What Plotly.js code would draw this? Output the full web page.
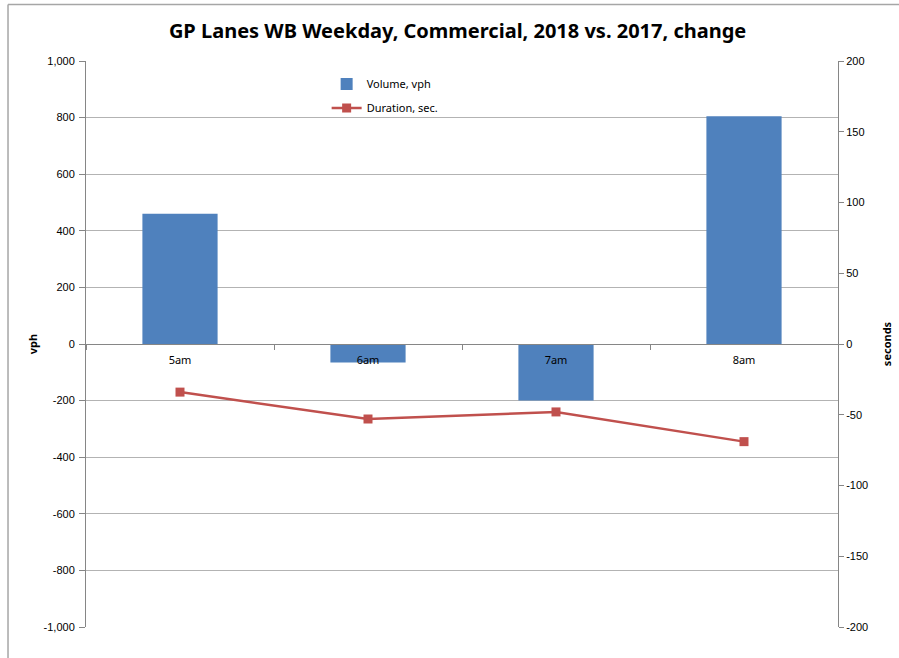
<!DOCTYPE html>
<html>
<head>
<meta charset="utf-8">
<script src="https://cdn.plot.ly/plotly-3.0.1.min.js"></script>
<style>html,body{margin:0;padding:0;background:#fff;}#chart{width:899px;height:658px;}</style>
</head>
<body>
<div id="chart"></div>
<script>
const categories = ["5am", "6am", "7am", "8am"];
const volumeVph = [460, -65, -200, 805];
const durationSec = [-34, -53, -48, -69];
const leftTicks = [-1000, -800, -600, -400, -200, 0, 200, 400, 600, 800, 1000];
const leftTickText = ["-1,000", "-800", "-600", "-400", "-200", "0", "200", "400", "600", "800", "1,000"];
const rightTicks = [-200, -150, -100, -50, 0, 50, 100, 150, 200];
const rightTickText = ["-200", "-150", "-100", "-50", "0", "50", "100", "150", "200"];

const traces = [
  {
    type: "bar", name: "Volume, vph", x: categories, y: volumeVph, legendgroup: "a",
    marker: {color: "#4F81BD"}, yaxis: "y", xaxis: "x"
  },
  {
    type: "scatter", mode: "lines+markers", name: "Duration, sec.", x: categories, y: durationSec, legendgroup: "b",
    line: {color: "#C0504D", width: 2.5}, marker: {symbol: "square", size: 9, color: "#C0504D"},
    yaxis: "y2", xaxis: "x"
  }
];

const layout = {
  width: 899, height: 658,
  margin: {l: 86, r: 61, t: 61, b: 31, pad: 0},
  paper_bgcolor: "#fff", plot_bgcolor: "#fff",
  showlegend: true,
  bargap: 0.6,
  title: {text: "GP Lanes WB Weekday, Commercial, 2018 vs. 2017, change",
    font: {family: "Noto Sans, Open Sans, sans-serif", size: 20, color: "#000", weight: "bold"},
    x: 0.509, xanchor: "center", y: 0.953, yanchor: "middle"},
  font: {family: "Liberation Sans, Arial, sans-serif", size: 11, color: "#000"},
  xaxis: {
    type: "category", anchor: "free", position: 0.5,
    showline: true, linecolor: "#868686", linewidth: 1,
    ticks: "outside", tickson: "boundaries", ticklen: 5, tickcolor: "#868686",
    showgrid: false, zeroline: false, ticklabelstandoff: 6,
    tickfont: {family: "Noto Sans, sans-serif", size: 11, color: "#000"}
  },
  yaxis: {
    range: [-1000, 1000], tickvals: leftTicks, ticktext: leftTickText,
    showline: true, linecolor: "#868686", ticks: "outside", ticklen: 6, tickcolor: "#868686",
    showgrid: true, gridcolor: "#B3B3B3", gridwidth: 1, zeroline: false,
    tickfont: {size: 11}, ticklabelstandoff: 2,
    title: {text: "vph", font: {family: "Noto Sans, sans-serif", size: 11, weight: "bold"}, standoff: 3}
  },
  yaxis2: {
    range: [-200, 200], tickvals: rightTicks, ticktext: rightTickText, overlaying: "y", side: "right",
    showline: true, linecolor: "#868686", ticks: "outside", ticklen: 5, tickcolor: "#868686",
    showgrid: false, zeroline: false, tickfont: {size: 11},
    title: {text: "seconds", font: {family: "Noto Sans, sans-serif", size: 11, weight: "bold"}, standoff: 16}
  },
  legend: {
    x: 0.32, y: 0.985, xanchor: "left", yanchor: "top", traceorder: "grouped",
    bgcolor: "rgba(0,0,0,0)", font: {family: "Noto Sans, sans-serif", size: 11, color: "#000"},
    tracegroupgap: 5, itemwidth: 30
  },
  shapes: [
    {type: "line", xref: "paper", yref: "paper", x0: -0.1037, x1: -0.1037, y0: -0.1, y1: 1.0998,
      line: {color: "#A6A6A6", width: 1.5}},
    {type: "line", xref: "paper", yref: "paper", x0: -0.1037, x1: 1.1, y0: 1.0998, y1: 1.0998,
      line: {color: "#A6A6A6", width: 1.5}}
  ]
};

Plotly.newPlot("chart", traces, layout, {displayModeBar: false, staticPlot: true});
</script>
</body>
</html>
